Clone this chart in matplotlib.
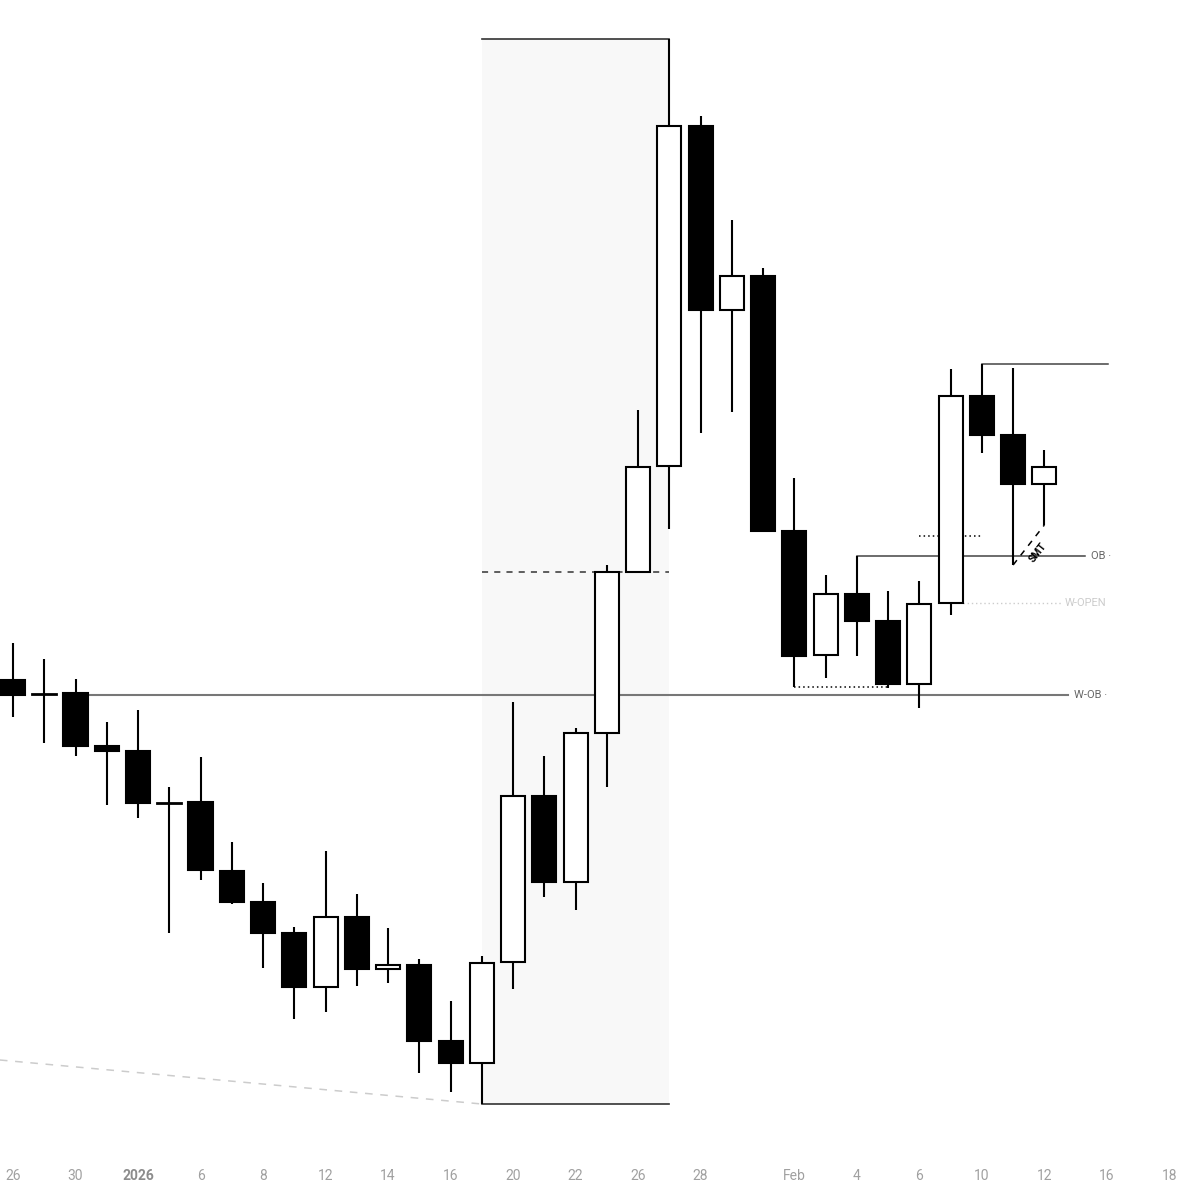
import matplotlib
matplotlib.use("Agg")
import matplotlib.pyplot as plt
from matplotlib.patches import Rectangle

plt.rcParams['font.family'] = ['Roboto', 'DejaVu Sans']

# daily candles, Dec 26 -> Feb 12 (price units)
opens  = [52.0, 50.6, 50.7, 45.4, 44.9, 39.7, 39.8, 32.9, 29.8, 26.7, 21.3, 28.3,
          23.1, 23.5, 15.9, 13.7, 23.8, 40.4, 31.8, 46.7, 62.8, 73.4, 107.4, 89.0,
          92.4, 66.9, 54.5, 60.6, 57.9, 51.6, 59.7, 80.4, 76.5, 71.6]
highs  = [55.7, 54.1, 52.1, 47.8, 49.0, 41.3, 44.3, 35.8, 31.7, 27.3, 34.9, 30.6,
          27.2, 24.1, 19.9, 24.4, 49.8, 44.4, 47.2, 63.5, 79.0, 116.1, 108.4, 98.0,
          93.2, 72.2, 62.5, 64.4, 60.9, 61.9, 83.1, 83.6, 83.2, 75.0]
lows   = [48.3, 45.7, 44.4, 39.5, 38.2, 26.7, 32.0, 29.6, 23.2, 18.1, 18.8, 21.4,
          21.7, 12.7, 10.8, 9.6, 21.1, 30.3, 29.0, 41.3, 62.8, 67.1, 76.7, 78.8,
          66.9, 51.3, 52.2, 54.4, 51.2, 49.2, 58.5, 74.7, 63.5, 67.5]
closes = [50.5, 50.6, 45.4, 44.9, 39.7, 39.7, 33.0, 29.8, 26.7, 21.3, 28.3, 23.1,
          23.5, 15.9, 13.7, 23.7, 40.4, 31.8, 46.7, 62.8, 73.3, 107.4, 89.0, 92.4,
          66.9, 54.4, 60.6, 57.9, 51.6, 59.6, 80.4, 76.5, 71.6, 73.3]

tick_pos = [0, 2, 4, 6, 8, 10, 12, 14, 16, 18, 20, 22, 25, 27, 29, 31, 33, 35, 37]
tick_txt = ["26", "30", "2026", "6", "8", "12", "14", "16", "20", "22", "26", "28",
            "Feb", "4", "6", "10", "12", "16", "18"]

# levels
w_ob = 50.5
ob = 64.4
w_open = 59.7
swing_hi = 83.6
eq_dots = 66.4
range_mid = 62.8

fig = plt.figure(figsize=(12, 11.87), dpi=100)
ax = fig.add_axes([0, 37 / 1187, 1, 1150 / 1187])

body_w = 0.77
for i, (o, h, l, c) in enumerate(zip(opens, highs, lows, closes)):
    up = c > o
    top, bot = max(o, c), min(o, c)
    ax.plot([i, i], [top, h], color='black', lw=1.5, zorder=3, solid_capstyle='butt')
    ax.plot([i, i], [l, bot], color='black', lw=1.5, zorder=3, solid_capstyle='butt')
    if top - bot < 0.15:
        ax.plot([i - body_w / 2, i + body_w / 2], [top, top], color='black', lw=2, zorder=4)
    else:
        ax.add_patch(Rectangle((i - body_w / 2, bot), body_w, top - bot,
                               facecolor='white' if up else 'black',
                               edgecolor='black', lw=1.5, zorder=4))

# range box from Jan 20 low to Jan 27 high
ax.add_patch(Rectangle((15, lows[15]), 6, highs[21] - lows[15], facecolor='#f8f8f8',
                       edgecolor='none', zorder=0))
ax.plot([15, 21], [highs[21], highs[21]], color='#333333', lw=1.2, zorder=2)
ax.plot([15, 21], [lows[15], lows[15]], color='#333333', lw=1.2, zorder=2)
ax.plot([15, 21], [range_mid, range_mid], color='#333333', lw=1.1, ls=(0, (4, 4)), zorder=2)

# old trendline
ax.plot([-0.42, 15], [14.0, lows[15]], color='#cccccc', lw=1.1, ls=(0, (5, 5)), zorder=1)

# W-OB
ax.plot([2 + body_w / 2, 33.76], [w_ob, w_ob], color='#777777', lw=1.5, zorder=2)
ax.text(33.95, w_ob, "W-OB \u00b7", color='#666666', fontsize=8, va='center', ha='left')

# OB
ax.plot([27, 27], [highs[27], ob], color='black', lw=1.5, zorder=3)
ax.plot([27, 34.3], [ob, ob], color='#444444', lw=1.1, zorder=2)
ax.text(34.5, ob, "OB \u00b7", color='#666666', fontsize=8, va='center', ha='left')

# W-OPEN
ax.plot([30 + body_w / 2, 33.57], [w_open, w_open], color='#cccccc', lw=1, ls=(0, (1, 2)), zorder=2)
ax.text(33.65, w_open, "W-OPEN", color='#cccccc', fontsize=8, va='center', ha='left')

# dotted equal levels
ax.plot([29, 31], [eq_dots, eq_dots], color='black', lw=1.1, ls=(0, (1, 2)), zorder=2)
ax.plot([25, 28], [lows[25], lows[25]], color='black', lw=1.1, ls=(0, (1, 2)), zorder=2)

# swing high line
ax.plot([31, 35.04], [swing_hi, swing_hi], color='#444444', lw=1.1, zorder=2)

# SMT
ax.plot([32, 33], [lows[32], lows[33]], color='black', lw=1.1, ls=(0, (4, 4)), zorder=2)
ax.text(32.8, 64.7, "SMT", fontsize=7.5, fontweight='bold', rotation=52,
        ha='center', va='center', color='black')

ax.set_xlim(-0.416, 37.98)
ax.set_ylim(5.0, 120.0)
ax.set_yticks([])
ax.set_xticks(tick_pos)
ax.set_xticklabels(tick_txt, fontsize=10, color='#a0a0a0')
for lab in ax.get_xticklabels():
    if lab.get_text() == "2026":
        lab.set_fontweight('bold')
        lab.set_color('#8c8c8c')
ax.tick_params(axis='x', length=0, pad=14)
for s in ax.spines.values():
    s.set_visible(False)

fig.savefig("out.png", dpi=100)
